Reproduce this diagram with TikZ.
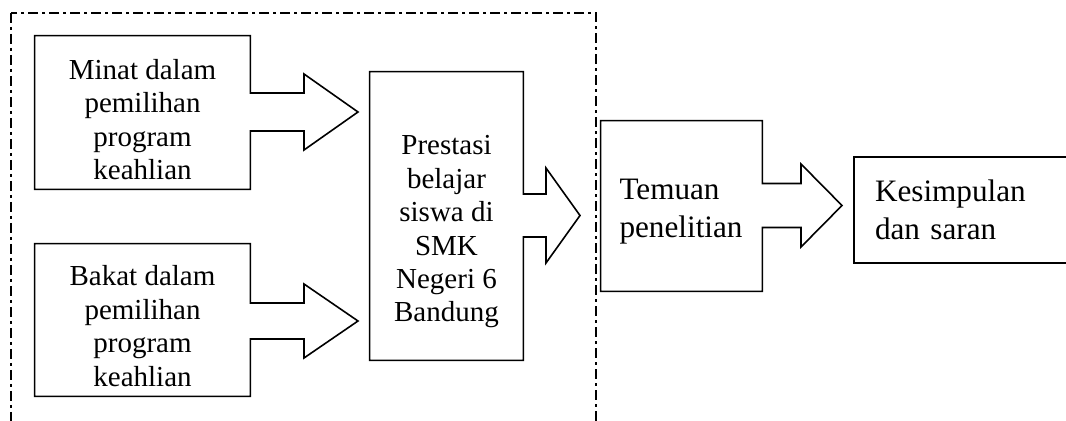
\documentclass[tikz,border=0pt]{standalone}
\usepackage{fontspec}
\setmainfont{Liberation Serif}
\usetikzlibrary{calc,positioning}

% box outline with a block arrow on its right side
% #1 box, #2 tip, #3 half shaft, #4 head length, #5 half head
\newcommand{\arrowbox}[5]{%
  \draw[boxline] ($(#1.east |- #2)+(0,-#3)$) |- (#1.north west) |- (#1.south east)
    -- ($(#1.east |- #2)+(0,#3)$) -- ($(#2)+(-#4,#3)$) -- ($(#2)+(-#4,#5)$) -- (#2)
    -- ($(#2)+(-#4,-#5)$) -- ($(#2)+(-#4,-#3)$) -- cycle;}

\begin{document}
\begin{tikzpicture}[x=0.5pt,y=-0.5pt,
    boxline/.style={line width=0.8pt,line join=miter},
    frameline/.style={line width=0.6pt,dash pattern=on 5pt off 2pt on 1.5pt off 2pt},
    boxshape/.style={inner sep=0pt},
    lefttext/.style={align=center,inner sep=0pt,font=\fontsize{14.5}{16.7}\selectfont},
    righttext/.style={align=left,inner ysep=0pt,font=\fontsize{15.6}{19}\selectfont}]
	\useasboundingbox (0,0) rectangle (1066,421);

	% dashed frame round the first part
	\draw[frameline] (11,13) rectangle (596,460);

	% boxes
	\node[boxshape,minimum width=107.5pt,minimum height=76.5pt] (minat) at (142.5,112.5) {};
	\node[boxshape,minimum width=107.5pt,minimum height=76pt] (bakat) at (142.5,320) {};
	\node[boxshape,minimum width=76.5pt,minimum height=144pt] (prestasi) at (446.5,216) {};
	\node[boxshape,minimum width=80.5pt,minimum height=85pt] (temuan) at (681.5,206) {};
	\node[righttext,boxline,draw,text width=97pt,inner xsep=10.5pt,minimum height=53pt] (kesimpulan) at (972,210)
		{Kesimpulan\\dan saran};

	% texts
	\node[lefttext] (minattext) at ($(minat)+(0,7)$) {Minat dalam\\pemilihan\\program\\keahlian};
	\node[lefttext] (bakattext) at ($(bakat)+(0,6)$) {Bakat dalam\\pemilihan\\program\\keahlian};
	\node[lefttext] (prestasitext) at ($(prestasi)+(0,16)$) {Prestasi\\belajar\\siswa di\\SMK\\Negeri 6\\Bandung};
	\node[righttext,text width=62pt,inner xsep=9pt] (temuantext) at ($(temuan)+(0,6)$) {Temuan\\penelitian};

	\coordinate (tipminat) at (358,112);
	\coordinate (tipbakat) at (358,321);
	\coordinate (tipprestasi) at (580,215.5);
	\coordinate (tiptemuan) at (842,205.5);

	\arrowbox{minat}{tipminat}{19}{54}{38}
	\arrowbox{bakat}{tipbakat}{18}{54}{37}
	\arrowbox{prestasi}{tipprestasi}{21.5}{34}{47.5}
	\arrowbox{temuan}{tiptemuan}{22}{41}{41.5}
\end{tikzpicture}
\end{document}
